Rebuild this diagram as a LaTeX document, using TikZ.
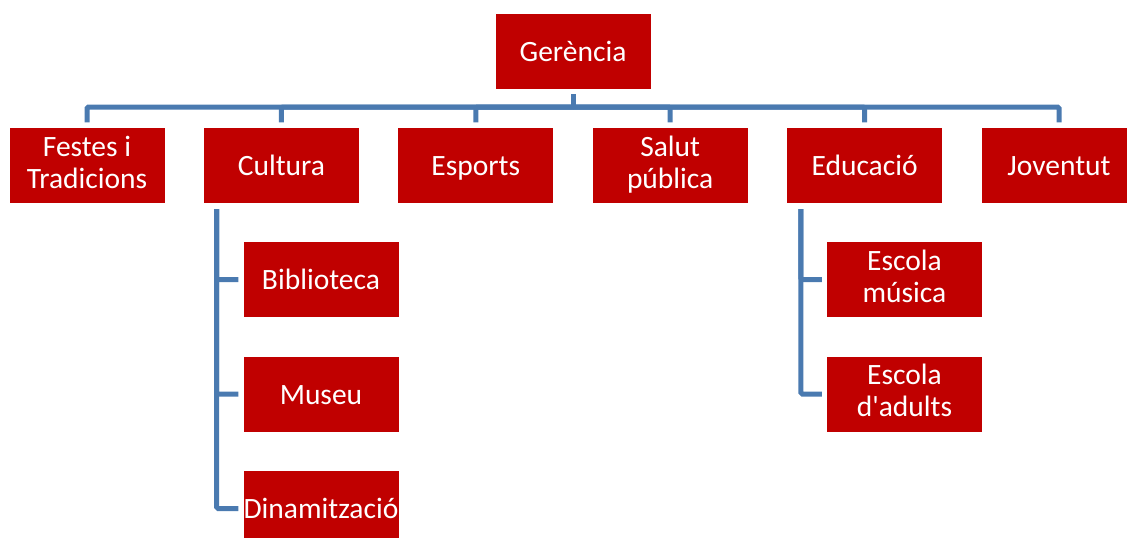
\documentclass[tikz,border=0pt]{standalone}
\usepackage{fontspec}
\setmainfont{Carlito}[Ligatures=TeXOff]
\usepackage{tikz}

\definecolor{boxred}{RGB}{192,0,0}
\definecolor{linkblue}{RGB}{74,122,176}
\newcommand{\boxstrut}{\rule[-6.5pt]{0pt}{33pt}}

\begin{document}
\begin{tikzpicture}[x=1pt, y=-1pt,
		unit/.style={rectangle, fill=boxred, text=white, minimum width=155pt, minimum height=75pt,
			inner sep=0pt, align=center, font=\fontsize{29.5}{32}\selectfont,
			execute at begin node=\boxstrut, execute at end node=\boxstrut},
		link/.style={draw=linkblue, line width=5pt, rounded corners=1.5pt}]
		\useasboundingbox (0,0) rectangle (1127,538);
		\node[unit] (ger) at (573,51.5) {Ger\`encia};
		\coordinate (bus) at (573,107);
		\draw[link, shorten <=5pt] (ger.south) -- (bus);
		% first level
		\foreach \nm/\txt [count=\i from 0] in {fes/{Festes i\\Tradicions}, cul/Cultura, esp/Esports,
				sal/{Salut\\p\'ublica}, edu/Educaci\'o, jov/Joventut}
		{
			\node[unit] (\nm) at (87+194.4*\i,165.5) {\txt};
			\draw[link, shorten <=5.5pt] (\nm.north) |- (bus);
		}
		% under Cultura
		\node[unit] (bib) at (321,279.5) {Biblioteca};
		\node[unit] (mus) at (321,394) {Museu};
		\node[unit] (din) at (321,508.5) {Dinamitzaci\'o};
		\foreach \ch in {bib,mus,din}
			\draw[link, shorten <=6pt, shorten >=5pt] ([xshift=13pt]cul.south west) |- (\ch.west);
		% under Educacio
		\node[unit] (mu) at (904.5,279.5) {Escola\\m\'usica};
		\node[unit] (adu) at (904.5,394) {Escola\\d'adults};
		\foreach \ch in {mu,adu}
			\draw[link, shorten <=6pt, shorten >=5pt] ([xshift=14pt]edu.south west) |- (\ch.west);
	\end{tikzpicture}
\end{document}
